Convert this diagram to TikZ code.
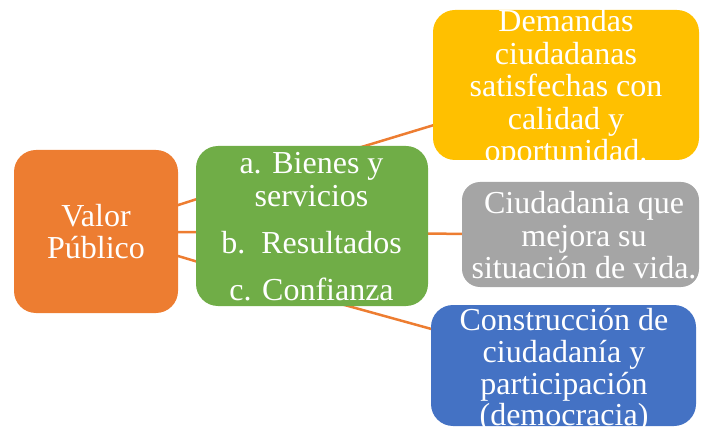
\documentclass[tikz,border=0pt]{standalone}
\usepackage{fontspec}
\setmainfont{Liberation Serif}
\usepackage{tikz}
\usetikzlibrary{positioning,backgrounds}
\definecolor{orange1}{RGB}{237,125,49}
\definecolor{green1}{RGB}{112,173,71}
\definecolor{gold1}{RGB}{255,192,0}
\definecolor{gray1}{RGB}{165,165,165}
\definecolor{blue1}{RGB}{68,114,196}
\tikzstyle{box} = [rectangle, rounded corners=22pt, draw=none, inner sep=0pt]
\tikzstyle{txt} = [text=white, align=center, font=\fontsize{32}{32.5}\selectfont, inner sep=0pt]
\tikzstyle{link} = [draw=orange1, line width=2.5pt]
\begin{document}
\begin{tikzpicture}[x=1pt,y=-1pt]
\useasboundingbox (0,0) rectangle (703,427);

% boxes =============================
\node[box, fill=orange1, minimum width=164pt, minimum height=163pt] (valor) at (96,231.5) {};
\node[box, fill=green1, minimum width=232pt, minimum height=160pt] (bienes) at (312,226) {};
\node[box, fill=gold1, minimum width=266pt, minimum height=150pt] (demandas) at (566,85) {};
\node[box, fill=gray1, minimum width=237pt, minimum height=105pt, rounded corners=18pt] (ciudadania) at (580.5,234.5) {};
\node[box, fill=blue1, minimum width=265pt, minimum height=121pt] (construccion) at (563.5,365.5) {};

% texts =============================
\node[txt, font=\fontsize{32}{32}\selectfont] (valor-txt) at (96,232) {Valor\\Público};
\node[txt, font=\fontsize{32}{32.5}\selectfont] (bienes-txt) at (311.5,226.7) {a. Bienes y\\servicios\\[15pt]b.\ \ Resultados\\[14pt]c. Confianza};
\node[txt] (demandas-txt) at (566,89) {Demandas\\ciudadanas\\satisfechas con\\calidad y\\oportunidad.};
\node[txt] (ciudadania-txt) at (584,235.5) {Ciudadania que\\mejora su\\situación de vida.};
\node[txt, font=\fontsize{32}{31.7}\selectfont] (construccion-txt) at (564,370.6) {Construcción de\\ciudadanía y\\participación\\(democracia)};

% edges =============================
\coordinate (ga) at (312,162);
\coordinate (gb) at (312,233);
\coordinate (gc) at (312,296);
\begin{scope}[on background layer]
\path[link] (valor.center) -- (ga) -- (demandas.center);
\path[link] (valor.center) -- (gb) -- (ciudadania.center);
\path[link] (valor.center) -- (gc) -- (construccion.center);
\end{scope}

\end{tikzpicture}
\end{document}
